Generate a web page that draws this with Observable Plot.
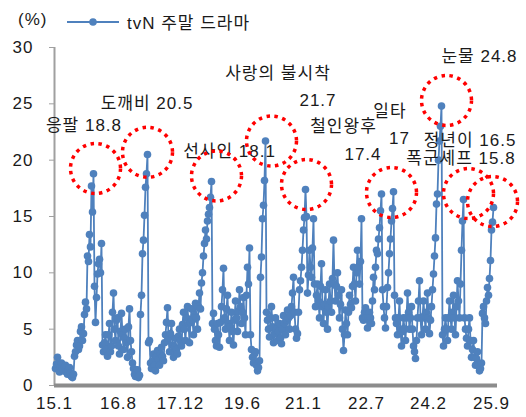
<!DOCTYPE html>
<html><head><meta charset="utf-8">
<script src="https://cdn.jsdelivr.net/npm/d3@7"></script>
<script src="https://cdn.jsdelivr.net/npm/@observablehq/plot@0.6"></script>
<style>
body{margin:0;background:#fff;}
#wrap{position:relative;width:526px;height:417px;font-family:"Liberation Sans","Noto Sans CJK KR",sans-serif;color:#1a1a1a;letter-spacing:1px;}
#wrap svg text{letter-spacing:1px;}
#unit{position:absolute;left:18px;top:10px;font-size:17px;}
#legend{position:absolute;left:67px;top:9px;display:flex;align-items:center;font-size:17px;}
#legend svg{margin-right:8px;}
</style></head><body><div id="wrap"><div id="unit">(%)</div><div id="legend"></div></div>
<script>
// tvN weekend drama ratings (%), sequential episodes
const values = [
 1.5,1.9,2.5,2.0,1.2,1.6,2.0,1.5,1.3,1.7,
 1.8,1.2,1.0,1.4,1.6,1.1,0.8,0.7,1.0,2.6,
 3.0,3.6,4.0,3.2,3.5,4.8,5.2,4.0,4.6,6.3,
 7.4,6.8,11.5,11.0,13.4,12.3,17.7,15.4,18.8,8.8,
 5.6,7.8,9.9,10.8,11.2,10.0,12.6,3.6,3.0,3.8,
 4.5,3.2,2.6,4.5,5.5,3.0,3.5,6.5,8.2,5.0,
 4.0,5.8,6.0,3.5,2.8,4.8,6.4,4.5,3.2,4.2,
 5.0,3.8,2.5,5.2,6.8,4.0,3.0,2.0,1.5,1.0,
 0.8,1.2,1.4,0.7,0.9,6.3,8.0,11.7,12.9,15.1,
 17.6,18.8,20.5,3.8,4.0,2.0,1.5,2.2,2.8,1.8,
 1.3,2.6,3.1,2.3,1.8,2.8,3.4,2.6,2.2,3.8,
 4.5,5.6,6.9,4.2,3.0,4.6,5.5,3.6,2.5,3.4,
 4.2,3.2,2.8,4.4,5.0,4.0,3.5,5.4,6.5,5.0,
 4.0,6.0,7.0,5.5,3.8,5.6,6.8,5.8,4.5,6.2,
 7.3,6.0,5.0,7.0,8.2,6.8,9.1,10.0,11.5,12.6,
 13.8,13.0,14.6,15.2,15.8,16.7,18.1,5.5,6.4,5.0,
 4.0,3.5,5.5,4.5,3.4,5.6,7.0,8.5,10.4,6.0,
 5.0,6.8,8.0,5.5,4.0,5.2,6.5,4.8,3.6,5.8,
 7.5,6.0,4.8,6.6,8.5,7.0,5.5,6.5,7.8,6.0,
 4.5,8.0,10.5,9.0,12.2,4.5,3.2,2.5,2.0,2.8,
 3.0,1.8,1.3,1.6,2.2,9.6,11.4,14.8,16.0,18.2,
 21.7,6.5,5.8,5.0,4.3,6.0,7.0,5.2,3.8,4.6,
 6.0,5.0,4.0,4.8,5.5,4.2,3.7,5.0,6.2,5.5,
 4.5,5.8,6.7,6.0,5.0,6.2,7.0,8.2,9.6,6.5,
 5.0,4.2,4.6,6.5,8.5,9.3,10.5,12.0,13.8,14.9,
 17.4,15.0,8.2,9.8,12.0,10.5,9.6,12.2,14.8,9.0,
 7.0,8.0,9.0,7.5,6.0,8.8,10.8,7.0,5.5,7.2,
 8.5,6.5,5.0,7.0,9.0,7.5,6.5,9.5,12.9,9.0,
 7.5,8.8,10.0,8.0,6.0,7.2,8.5,5.0,3.1,4.5,
 6.7,5.5,4.5,6.5,8.0,7.2,6.9,8.8,10.5,9.0,
 7.5,10.0,12.0,10.5,9.0,11.0,14.8,6.0,5.8,6.5,
 6.9,6.0,5.1,6.0,6.5,6.0,5.5,7.5,9.6,8.5,
 10.5,12.0,11.7,13.0,14.0,15.5,17.0,8.5,7.0,6.0,
 5.1,7.0,8.7,10.0,11.7,13.0,14.6,15.7,17.2,8.0,
 6.0,5.5,4.5,6.0,7.5,5.0,3.5,4.8,6.0,5.0,
 4.0,6.0,8.2,6.5,5.0,6.0,7.0,5.0,3.5,3.0,
 2.4,4.0,6.0,7.5,9.3,6.0,4.5,6.0,7.5,6.2,
 5.0,6.5,8.2,6.0,4.6,5.8,7.0,8.5,9.9,11.5,
 13.1,16.1,17.0,20.0,21.7,23.0,24.8,4.5,3.5,5.0,
 6.0,5.0,4.0,6.0,7.5,6.0,5.0,6.5,8.0,6.0,
 4.5,7.0,9.3,7.5,6.0,9.0,12.0,14.6,16.5,6.0,
 5.0,4.2,3.5,5.0,6.0,4.0,2.5,3.2,4.0,2.5,
 1.8,2.4,3.0,1.8,1.3,1.5,2.0,6.4,7.0,6.0,
 5.5,7.5,8.7,8.0,9.5,11.1,13.8,14.5,15.8
];
const tickLabels = ["15.1","16.8","17.12","19.6","21.1","22.7","24.2","25.9"];
const tickPositions = [-1,63,125,187,248,311,373,436];
const yTicks = [0,5,10,15,20,25,30];

// annotations: text, anchor position (episode index, rating level)
const annoText = ["응팔 18.8","도깨비 20.5","선사인 18.1","사랑의 불시착","21.7","철인왕후","17.4","일타","17","눈물 24.8","정년이 16.5","폭군셰프 15.8"];
const annoX = [28.5,91.5,174,222.5,262.5,288,307.5,334.5,344,424,414.5,405.5];
const annoY = [23.1,25.0,20.8,27.7,25.3,23.0,20.5,24.3,21.9,29.2,21.7,20.1];
// highlight circles around peaks
const circleX = [40,92,161,216,251,336,391,413,437];
const circleY = [19.26,20.7,18.6,21.7,17.84,17.13,25.3,17.04,16.33];

const blue = "#4F81BD";
const data = values.map((v,i)=>({i, v}));
const annos = annoText.map((t,k)=>({t, x:annoX[k], y:annoY[k]}));
const circles = circleX.map((x,k)=>({x, y:circleY[k]}));
const tickMap = new Map(tickPositions.map((p,k)=>[p,tickLabels[k]]));

const chart = Plot.plot({
  width:526, height:417,
  marginLeft:54, marginRight:29, marginTop:47, marginBottom:32,
  style:{fontFamily:'"Liberation Sans","Noto Sans CJK KR",sans-serif', fontSize:"17px", color:"#1a1a1a", background:"transparent"},
  x:{type:"linear", domain:[-1,442]},
  y:{domain:[0,30]},
  marks:[
    Plot.axisY({ticks:yTicks, tickSize:5, tickPadding:16, fontSize:17, stroke:"#a0a0a0", fill:"#1a1a1a", label:null}),
    Plot.axisX({ticks:tickPositions, tickFormat:d=>tickMap.get(d), tickSize:0, tickPadding:11, fontSize:17, fill:"#1a1a1a", label:null}),
    Plot.ruleX([-1], {y1:0, y2:30, stroke:"#a0a0a0", strokeWidth:2}),
    Plot.line(data, {x:"i", y:"v", stroke:blue, strokeWidth:1.8}),
    Plot.dot(data, {x:"i", y:"v", r:3.8, fill:blue}),
    Plot.ruleY([0], {x1:-1, x2:442, stroke:"#8c8c8c", strokeWidth:4}),
    Plot.text(annos, {x:"x", y:"y", text:"t", fontSize:17, fill:"#1a1a1a"}),
    Plot.dot(circles, {x:"x", y:"y", r:25, fill:"none", stroke:"#ff0000", strokeWidth:3.5, strokeDasharray:"3.5 4.5"})
  ]
});
document.getElementById("wrap").appendChild(chart);
chart.style.position="absolute"; chart.style.left="0"; chart.style.top="0";

const lg = document.getElementById("legend");
lg.innerHTML = `<svg width="52" height="12"><line x1="0" y1="6" x2="52" y2="6" stroke="${blue}" stroke-width="2"/><circle cx="26" cy="6" r="3.8" fill="${blue}"/></svg><span>tvN 주말 드라마</span>`;
document.getElementById("wrap").appendChild(document.getElementById("unit"));
document.getElementById("wrap").appendChild(lg);
</script>
</body></html>
